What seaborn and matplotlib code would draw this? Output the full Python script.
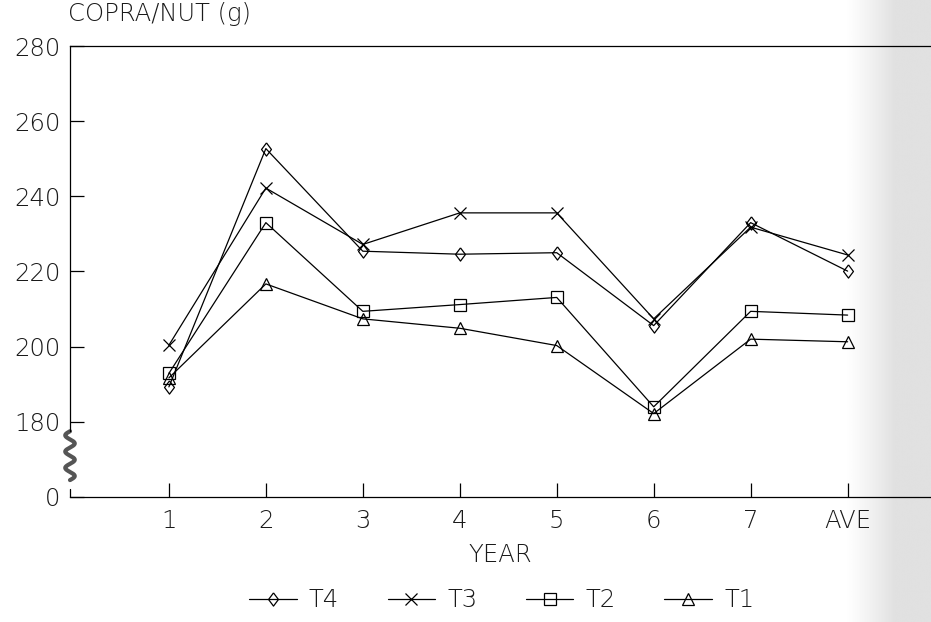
import numpy as np
import pandas as pd
import matplotlib
matplotlib.use("Agg")
import matplotlib.pyplot as plt
import matplotlib.transforms as mtransforms
import seaborn as sns

# ---- data ----
years = ["1", "2", "3", "4", "5", "6", "7", "AVE"]
t4 = [189.3, 252.7, 225.4, 224.6, 225.0, 205.6, 233.0, 220.1]
t3 = [200.4, 242.2, 227.2, 235.6, 235.6, 207.4, 231.8, 224.4]
t2 = [192.9, 233.0, 209.4, 211.2, 213.1, 184.0, 209.4, 208.4]
t1 = [191.7, 216.7, 207.4, 204.9, 200.3, 182.2, 202.0, 201.3]
series_names = ["T4", "T3", "T2", "T1"]
ytick_vals = [160, 180, 200, 220, 240, 260, 280]   # 160 is the broken-axis "0"
ytick_labels = ["0", "180", "200", "220", "240", "260", "280"]

sns.set_style("white")
plt.rcParams["font.family"] = ["DejaVu Sans"]
FS = 17.5
TXT = "#1a1a1a"

pos = np.arange(1, len(years) + 1)
df = pd.DataFrame({
    "pos": np.tile(pos, 4),
    "value": t4 + t3 + t2 + t1,
    "series": np.repeat(series_names, len(years)),
})
diamond = [(0, 1), (0.75, 0), (0, -1), (-0.75, 0), (0, 1)]
markers = {"T4": diamond, "T3": "x", "T2": "s", "T1": "^"}
msizes = {"T4": 9.5, "T3": 8.5, "T2": 8.0, "T1": 9.0}

fig = plt.figure(figsize=(9.31, 6.22), dpi=100)

# scan shading at the right edge
x0 = 845
gax = fig.add_axes([x0 / 931, 0, (931 - x0) / 931, 1], zorder=-5)
xs = np.linspace(0, 1, 300)
grad = np.clip(xs * (931 - x0) / 50.0, 0, 1)
grad = grad ** 1.2
img = np.tile(grad, (10, 1))
gax.imshow(1 - 0.12 * img, cmap="gray", vmin=0, vmax=1, aspect="auto",
           extent=[0, 1, 0, 1])
gax.axis("off")

ax = fig.add_axes([70 / 931, 1 - 497 / 622, 861 / 931, (497 - 46) / 622])
ax.patch.set_alpha(0)

for name in series_names:
    sub = df[df["series"] == name]
    sns.lineplot(data=sub, x="pos", y="value", ax=ax, color="black",
                 marker=markers[name], markersize=msizes[name],
                 markerfacecolor="none", markeredgecolor="black",
                 markeredgewidth=0.9, linewidth=0.9, label=name)

ax.set_xlim(-0.02, 8.86)
ax.set_ylim(160, 280)
ax.set_xticks(pos)
ax.set_xticklabels(years)
ax.set_yticks(ytick_vals)
ax.set_yticklabels(ytick_labels)

tick_kw = dict(direction="in", length=10, width=0.9, color="black",
               labelsize=FS, labelcolor=TXT)
ax.tick_params(axis="y", pad=7, **tick_kw)
ax.tick_params(axis="x", pad=9, **tick_kw)
ax.tick_params(axis="y", which="both", left=True)
ax.tick_params(axis="x", which="both", bottom=True)
for lab in ax.get_xticklabels() + ax.get_yticklabels():
    lab.set_fontweight("light")

for s in ["top", "bottom", "left"]:
    ax.spines[s].set_color("black")
    ax.spines[s].set_linewidth(0.9)
ax.spines["right"].set_visible(False)
ax.spines["left"].set_bounds(177.5, 280)

# small stub of the axis at 0
trans = mtransforms.blended_transform_factory(ax.transAxes, ax.transData)
ax.plot([0, 0], [160, 162], color="black", lw=0.9, transform=trans, clip_on=False)
# axis-break squiggle
yy = np.linspace(177.5, 164.5, 200)
xx = 0.0055 * np.sin((yy - 177.5) / 13 * 2 * np.pi * 3.0)
ax.plot(xx, yy, color="#555555", lw=3, transform=trans, clip_on=False,
        solid_capstyle="round")

ax.set_xlabel("YEAR", fontsize=FS, color=TXT, labelpad=7, fontweight="light")
ax.set_ylabel("")
fig.text(68 / 931, 1 - 14 / 622, "COPRA/NUT (g)", fontsize=FS, color=TXT,
         ha="left", va="center", fontweight="light")

handles, labels = ax.get_legend_handles_labels()
ax.get_legend().remove()
leg = fig.legend(handles, labels, loc="center", bbox_to_anchor=(0.539, 0.035),
                 ncol=4, frameon=False, fontsize=FS, handlelength=1.95,
                 columnspacing=2.0, handletextpad=0.5, labelcolor=TXT)
for t in leg.get_texts():
    t.set_fontweight("light")

fig.savefig("out.png", dpi=100)
